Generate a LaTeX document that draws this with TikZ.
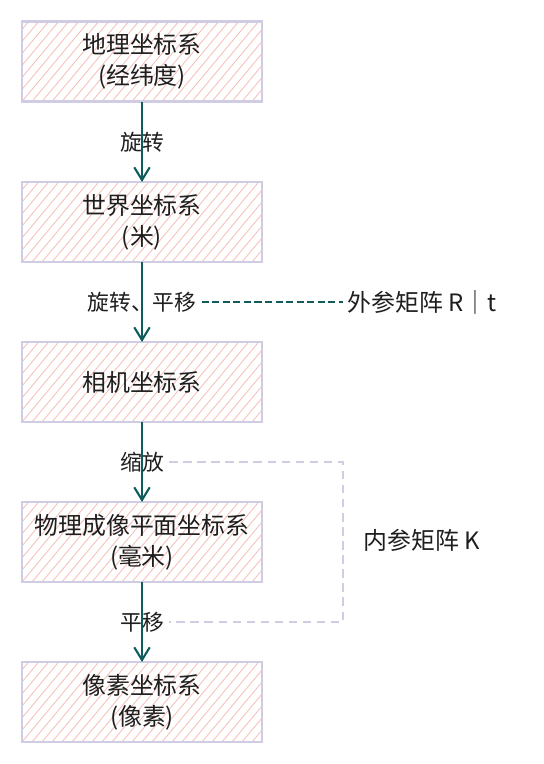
\documentclass[tikz,border=0pt]{standalone}
\usepackage{fontspec}
\newfontfamily\cjk{Noto Sans CJK SC}
\usetikzlibrary{arrows.meta,backgrounds,calc}

\definecolor{boxline}{HTML}{D0CCE4}
\definecolor{hatchpink}{HTML}{F4C0B6}
\definecolor{arrowteal}{HTML}{0E5C5C}
\definecolor{ink}{HTML}{1E1E1E}

\tikzset{
  coordbox/.style={draw=boxline, line width=1.6pt, minimum width=6cm,
    minimum height=2cm, inner sep=0pt, outer sep=0pt, align=center,
    text=ink, font=\cjk\fontsize{17pt}{22pt}\selectfont},
  hatch/.style={hatchpink, line width=0.6pt},
  flowarrow/.style={arrowteal, line width=1.5pt,
    -{Straight Barb[length=9pt,width=11pt,line width=1.5pt]}},
  steplabel/.style={text=ink, inner sep=3pt,
    font=\cjk\fontsize{15.5pt}{18pt}\selectfont},
  sidelabel/.style={text=ink, inner sep=3pt,
    font=\cjk\fontsize{17pt}{20pt}\selectfont},
  extdash/.style={arrowteal, line width=1.6pt, dash pattern=on 5pt off 2.5pt},
  intdash/.style={boxline, line width=1.5pt, dash pattern=on 6pt off 4pt}
}

\begin{document}
\begin{tikzpicture}[x=0.025cm,y=-0.025cm]

  \useasboundingbox (0,0) rectangle (544,764);

  % Coordinate systems, top to bottom
  \node[coordbox] (geo)   at (142,61.5) {地理坐标系\\(经纬度)};
  \node[coordbox] (world) at (142,222)  {世界坐标系\\(米)};
  \node[coordbox] (cam)   at (142,382)  {相机坐标系};
  \node[coordbox] (plane) at (142,542)  {物理成像平面坐标系\\(毫米)};
  \node[coordbox] (pix)   at (142,702)  {像素坐标系\\(像素)};

  % Hachure fill behind the boxes
  \begin{scope}[on background layer]
    \foreach \b in {geo,world,cam,plane,pix} {
      \begin{scope}
        \clip (\b.south west) rectangle (\b.north east);
        \foreach \k in {0,...,36}
          \draw[hatch] ($(\b.south west)+(\k*10-110,0)$) -- ++(110,-132);
      \end{scope}
    }
  \end{scope}

  % Transformations between the systems
  \draw[flowarrow] (geo)   -- node[steplabel] (rot)   {旋转} (world);
  \draw[flowarrow] (world) -- node[steplabel] (rt)    {旋转、平移} (cam);
  \draw[flowarrow] (cam)   -- node[steplabel] (zoom)  {缩放} (plane);
  \draw[flowarrow] (plane) -- node[steplabel] (shift) {平移} (pix);

  % Extrinsic matrix
  \node[sidelabel] (ext) at (422,302) {外参矩阵 R｜t};
  \draw[extdash] (rt.east) -- (ext.west);

  % Intrinsic matrix, bracket from scaling to shift
  \node[sidelabel] (kmat) at (422,540) {内参矩阵 K};
  \coordinate (kcorner) at (343,462);
  \draw[intdash] (zoom.east) -- (kcorner) |- (shift.east);

\end{tikzpicture}
\end{document}
